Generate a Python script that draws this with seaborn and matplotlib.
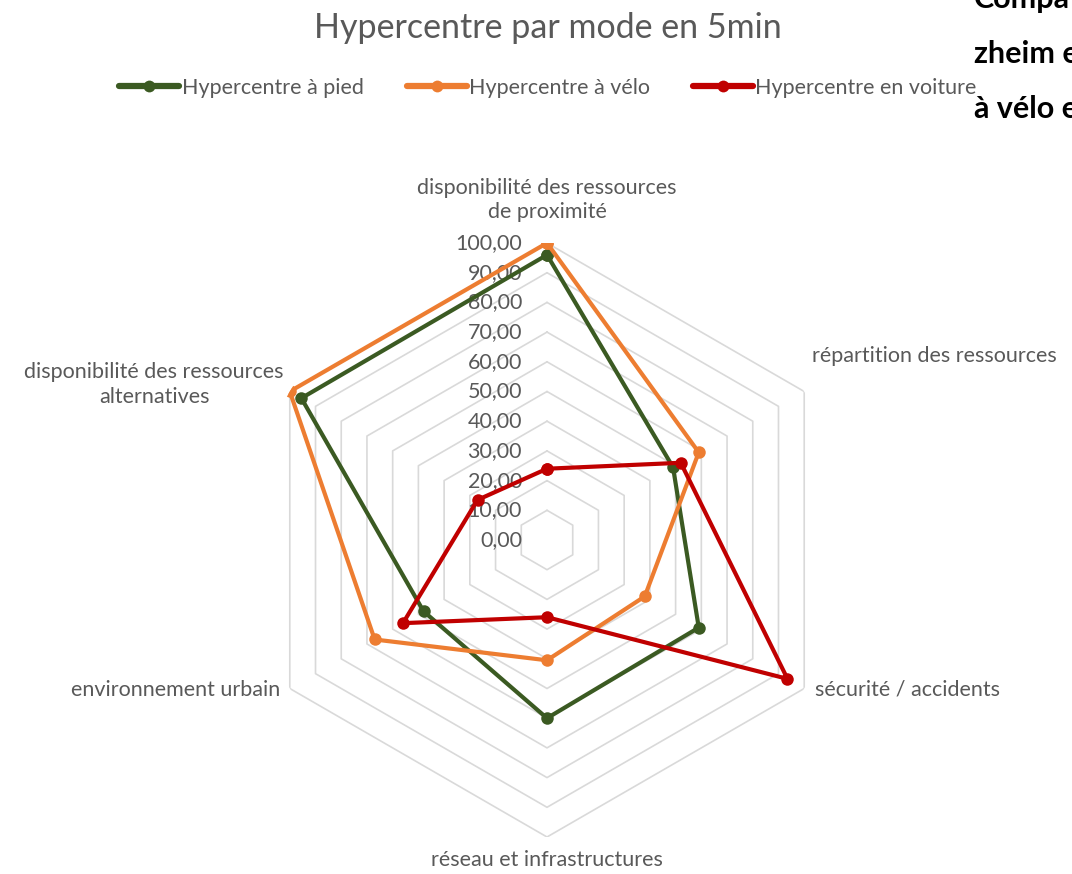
import numpy as np
import pandas as pd
import matplotlib
matplotlib.use("Agg")
import matplotlib.pyplot as plt
import seaborn as sns
from matplotlib.lines import Line2D

# Categories (clockwise from the top) and scores per travel mode
categories = [
    "disponibilité des ressources\nde proximité",
    "répartition des ressources",
    "sécurité / accidents",
    "réseau et infrastructures",
    "environnement urbain",
    "disponibilité des ressources\nalternatives",
]
series_names = ["Hypercentre à pied", "Hypercentre à vélo", "Hypercentre en voiture"]
pied = [96, 49, 59, 60, 48, 95.5]
velo = [100, 59, 38, 40.5, 67, 100]
voiture = [24, 52, 93.5, 26, 56, 27]
ring_values = [0, 10, 20, 30, 40, 50, 60, 70, 80, 90, 100]
colors = ["#3b5a22", "#ed7d31", "#c00000"]

title = "Hypercentre par mode en 5min"
side_text = ["Compa", "zheim e", "à vélo e"]

sns.set_theme(style="white")
plt.rcParams["font.family"] = ["Lato", "DejaVu Sans"]
grey = "#595959"
fs = 15.5

n = len(categories)
theta = np.arange(n) * 2 * np.pi / n
theta_closed = np.append(theta, 2 * np.pi)

rows = []
for name, vals in zip(series_names, [pied, velo, voiture]):
    for t, v in zip(theta_closed, list(vals) + [vals[0]]):
        rows.append({"mode": name, "theta": t, "value": v})
df = pd.DataFrame(rows)

fig = plt.figure(figsize=(10.72, 8.74), dpi=100)
cx, cy, rad = 547 / 1072, 1 - 540 / 874, 297
ax = fig.add_axes([cx - rad / 1072, cy - rad / 874, 2 * rad / 1072, 2 * rad / 874],
                  projection="polar")
ax.set_theta_zero_location("N")
ax.set_theta_direction(-1)
ax.set_ylim(0, 100)
ax.set_axis_off()

# hexagonal grid rings
for r in ring_values[1:]:
    ax.plot(theta_closed, [r] * (n + 1), color="#d9d9d9", lw=1.2, zorder=0.5)

# ring value labels along the top axis
for r in ring_values:
    ax.annotate(f"{r:.2f}".replace(".", ","), xy=(0, r), xytext=(-25, 0),
                textcoords="offset pixels", ha="right", va="center",
                fontsize=fs, color=grey, zorder=1)

sns.lineplot(data=df, x="theta", y="value", hue="mode", hue_order=series_names,
             palette=colors, sort=False, estimator=None, marker="o",
             markersize=9, markeredgewidth=0, linewidth=3.0, ax=ax,
             legend=False, zorder=3)

# category labels around the chart
label_offsets = [(0, 43, "center"), (8, 35, "left"), (11, -1, "left"),
                 (0, -23, "center"), (-10, -1, "right"), (-6, 7, "right")]
for t, lab, (dx, dy, ha) in zip(theta, categories, label_offsets):
    ax.annotate(lab, xy=(t, 100), xytext=(dx, dy), textcoords="offset pixels",
                ha=ha, va="center", multialignment="center", fontsize=fs,
                color=grey, linespacing=1.3, annotation_clip=False)

fig.text(548 / 1072, 1 - 28 / 874, title, ha="center", va="center",
         fontsize=24.5, color=grey)

handles = [Line2D([0], [0], color=c, lw=4.5, marker="o", markersize=8.5,
                  markeredgewidth=0) for c in colors]
fig.legend(handles, series_names, loc="center", ncol=3,
           bbox_to_anchor=(548 / 1072, 1 - 88 / 874), frameon=False,
           handlelength=2.8, handletextpad=0.1, columnspacing=2.0,
           fontsize=fs, labelcolor=grey)

for i, s in enumerate(side_text):
    fig.text(974 / 1072, 1 - (8 + 55 * i) / 874, s, ha="left", va="baseline",
             fontsize=22, fontweight="bold", color="black")

fig.savefig("out.png", dpi=100)
